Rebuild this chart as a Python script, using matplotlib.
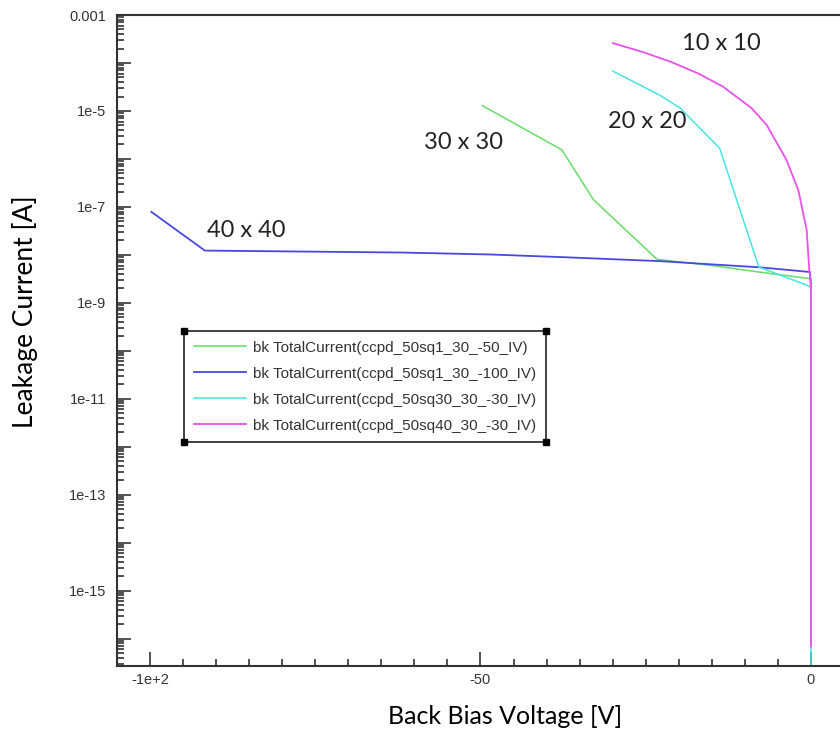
import matplotlib
matplotlib.use("Agg")
import matplotlib.pyplot as plt
from matplotlib.ticker import LogLocator, MultipleLocator, NullFormatter
from matplotlib.lines import Line2D

# data (voltage in V, current in A)
green_v = [-49.7, -37.7, -32.9, -23.3, -15.0, -7.9, -0.15, 0.0]
green_i = [1.29e-5, 1.55e-6, 1.41e-7, 8.1e-9, 6.0e-9, 4.4e-9, 3.2e-9, 3.0e-9]

blue_v = [-99.8, -91.7, -62.0, -48.5, -36.9, -22.8, -7.7, -0.15, 0.0]
blue_i = [7.9e-8, 1.23e-8, 1.12e-8, 1.02e-8, 8.9e-9, 7.4e-9, 5.5e-9, 4.4e-9, 2.2e-9]

cyan_v = [-30.0, -22.8, -19.8, -13.8, -7.9, -0.15, 0.0, 0.0]
cyan_i = [6.8e-5, 2.1e-5, 1.15e-5, 1.66e-6, 5.6e-9, 2.2e-9, 1.8e-9, 1e-17]

magenta_v = [-30.0, -25.5, -21.3, -17.0, -13.3, -9.0, -6.7, -3.7, -1.9, -0.65,
             -0.26, 0.0, 0.0]
magenta_i = [2.6e-4, 1.7e-4, 1.07e-4, 6.0e-5, 3.2e-5, 1.15e-5, 5.1e-6, 9.5e-7,
             2.2e-7, 3.3e-8, 4.9e-9, 2.3e-9, 6.9e-17]

legend_labels = [
    "bk TotalCurrent(ccpd_50sq1_30_-50_IV)",
    "bk TotalCurrent(ccpd_50sq1_30_-100_IV)",
    "bk TotalCurrent(ccpd_50sq30_30_-30_IV)",
    "bk TotalCurrent(ccpd_50sq40_30_-30_IV)",
]

size_labels = ["10 x 10", "20 x 20", "30 x 30", "40 x 40"]
size_label_v = [-13.5, -24.8, -52.6, -85.4]
size_label_i = [2.6e-4, 6.0e-6, 2.2e-6, 3.2e-8]

xtick_vals = [-100, -50, 0]
xtick_labels = ["-1e+2", "-50", "0"]
ytick_vals = [1e-3, 1e-4, 1e-5, 1e-6, 1e-7, 1e-8, 1e-9, 1e-10, 1e-11,
              1e-12, 1e-13, 1e-14, 1e-15, 1e-16]
ytick_labels = ["0.001", "", "1e-5", "", "1e-7", "", "1e-9", "", "1e-11",
                "", "1e-13", "", "1e-15", ""]

fig = plt.figure(figsize=(8.4, 7.3), dpi=100)
ax = fig.add_axes([117 / 840, 64 / 730, 723 / 840, 651 / 730])

ax.plot(green_v, green_i, color="#66dd66", lw=1.1, label=legend_labels[0])
ax.plot(blue_v, blue_i, color="#4848e0", lw=1.3, label=legend_labels[1])
ax.plot(cyan_v, cyan_i, color="#44e6e6", lw=1.1, label=legend_labels[2])
ax.plot(magenta_v, magenta_i, color="#ea50ea", lw=1.3, label=legend_labels[3])

ax.set_yscale("log")
ax.set_xlim(-104.99, 4.39)
ax.set_ylim(2.7e-17, 1e-3)

ax.set_xticks(xtick_vals)
ax.set_xticklabels(xtick_labels)
ax.xaxis.set_minor_locator(MultipleLocator(5))
ax.set_yticks(ytick_vals)
ax.set_yticklabels(ytick_labels)
ax.yaxis.set_minor_locator(LogLocator(base=10, subs=range(2, 10), numticks=100))
ax.yaxis.set_minor_formatter(NullFormatter())

ax.tick_params(which="both", direction="in", color="#333333", width=1.2,
               labelsize=10.5, labelcolor="#333333", labelfontfamily="Liberation Sans")
ax.tick_params(which="major", length=10)
ax.tick_params(which="minor", length=5)
ax.tick_params(axis="y", pad=8)
ax.tick_params(axis="x", pad=5)

for side in ["left", "bottom", "top"]:
    ax.spines[side].set_color("#333333")
    ax.spines[side].set_linewidth(1.5)
ax.spines["right"].set_visible(False)

ax.set_xlabel("Back Bias Voltage [V]", fontsize=18, family="Lato", labelpad=13)
ax.xaxis.label.set_x(0.537)
ax.set_ylabel("Leakage Current [A]", fontsize=19, family="Lato")
ax.yaxis.set_label_coords(-0.109, 0.544)

for txt, v, i in zip(size_labels, size_label_v, size_label_i):
    ax.text(v, i, txt, fontsize=17, family="Lato", ha="center", va="center", color="#222222")

leg = ax.legend(loc="upper left", bbox_to_anchor=(0.0926, 0.5146), borderaxespad=0,
                fancybox=False, edgecolor="#333333", framealpha=1,
                prop={"family": "Liberation Sans", "size": 11},
                handlelength=3.4, handletextpad=0.46, labelspacing=0.78,
                borderpad=0.64)
leg.get_frame().set_linewidth(1.3)
for t in leg.get_texts():
    t.set_color("#333333")

# small black squares at the legend corners
fig.canvas.draw()
bb = leg.get_window_extent().transformed(fig.transFigure.inverted())
corners_x = [bb.x0, bb.x1, bb.x0, bb.x1]
corners_y = [bb.y0, bb.y0, bb.y1, bb.y1]
fig.add_artist(Line2D(corners_x, corners_y, transform=fig.transFigure, ls="none",
                      marker="s", ms=4, color="black"))

fig.savefig("out.png", dpi=100)
